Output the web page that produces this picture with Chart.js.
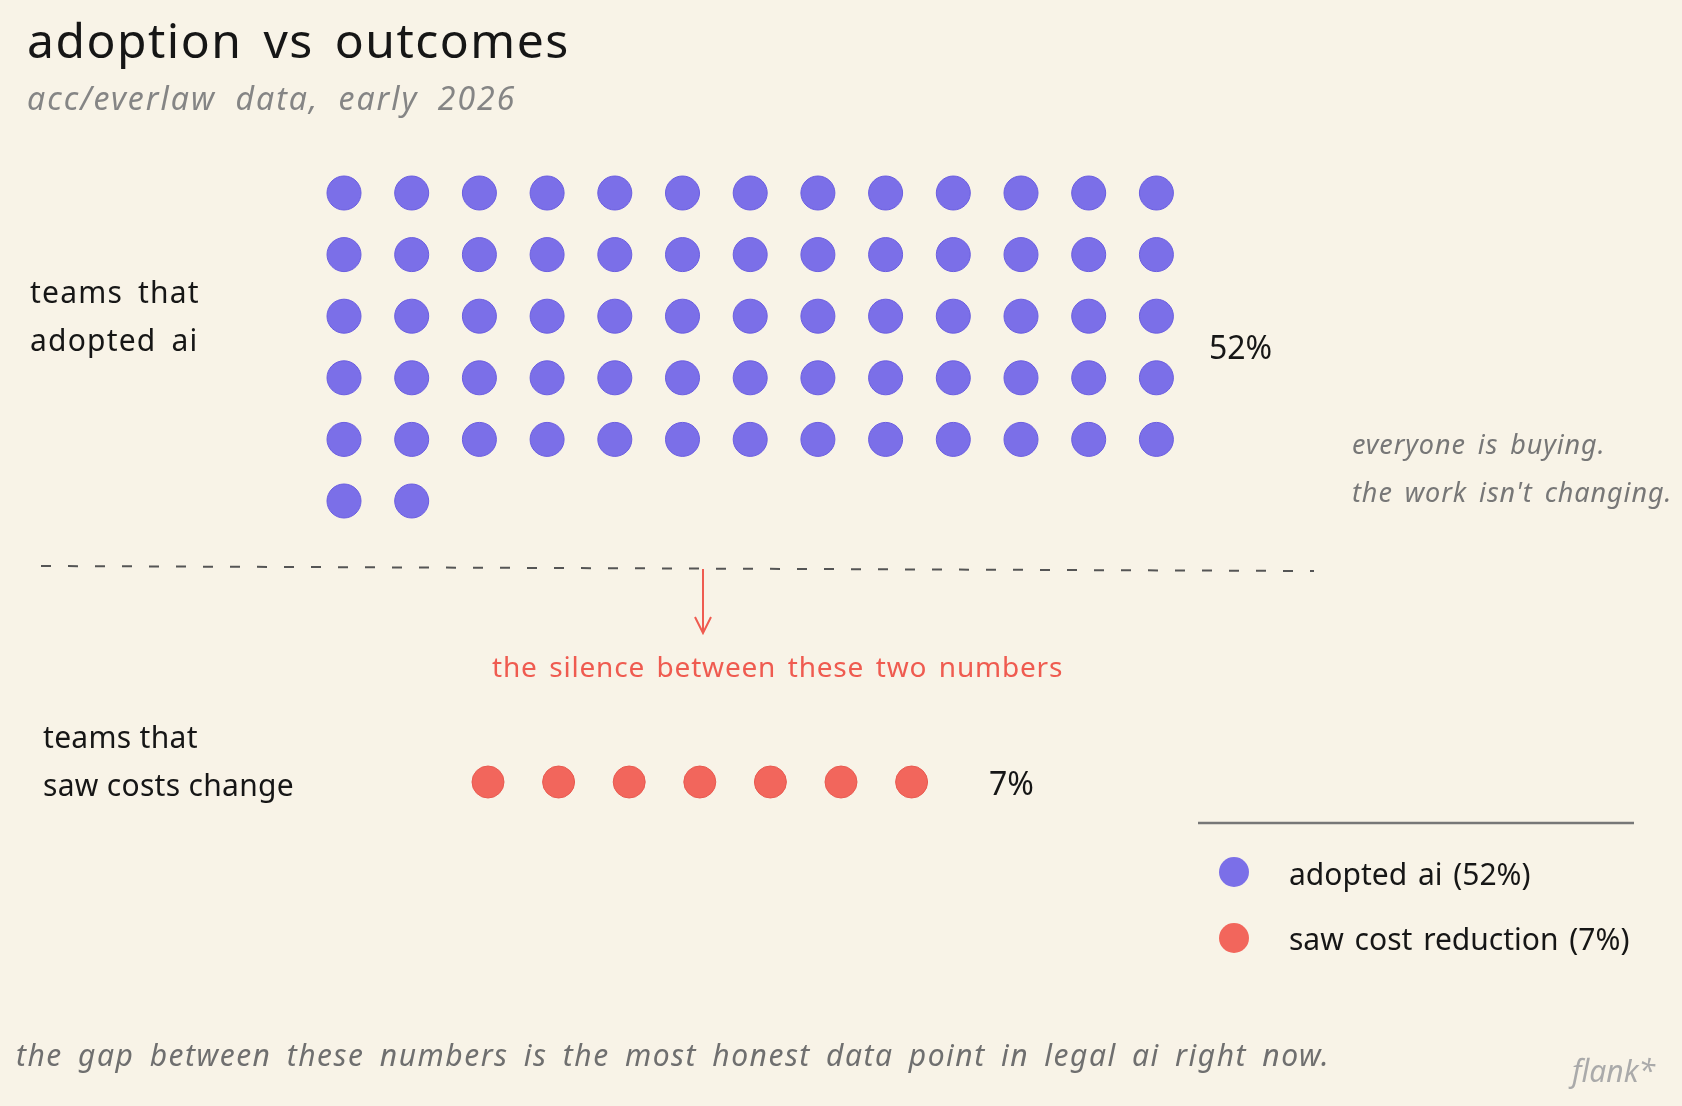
<!DOCTYPE html>
<html>
<head>
<meta charset="utf-8">
<script src="https://cdn.jsdelivr.net/npm/chart.js@4.4.1/dist/chart.umd.min.js"></script>
<style>
  html, body { margin: 0; padding: 0; }
  body { width: 1682px; height: 1106px; background: #f8f3e7; position: relative; overflow: hidden;
         font-family: "Noto Sans", sans-serif; color: #161616; }
  #chart { position: absolute; left: 0; top: 0; }
  .t { position: absolute; white-space: nowrap; line-height: 1; }
  .title { left: 27px; top: 16px; font-size: 48px; letter-spacing: 1.5px; word-spacing: 7px; }
  .sub { left: 27px; top: 82px; font-size: 32px; font-style: italic; color: #858585; letter-spacing: 2px; word-spacing: 9px; }
  .lbl { font-size: 30px; line-height: 48px; }
  .pct { font-size: 32px; }
  .note { left: 1352px; top: 420px; font-size: 27px; line-height: 48px; font-style: italic; color: #777;
          letter-spacing: 0.9px; word-spacing: 4px; }
  .gap { left: 492px; top: 652px; font-size: 28px; color: #ef5b50; letter-spacing: 0.8px; word-spacing: 3.5px; }
  .leg { left: 1289px; font-size: 30px; word-spacing: 3px; }
  .foot { left: 16px; top: 1040px; font-size: 30px; font-style: italic; color: #6f6f6f; letter-spacing: 1.5px; word-spacing: 6px; }
  .flank { left: 1572px; top: 1056px; font-size: 30px; font-style: italic; color: #aaa; }
  .sw { position: absolute; width: 30px; height: 30px; border-radius: 50%; }
</style>
</head>
<body>
<canvas id="chart" width="1682" height="1106"></canvas>

<div class="t title">adoption vs outcomes</div>
<div class="t sub">acc/everlaw data, early 2026</div>

<div class="t lbl" id="lbl0" style="left:30px; top:268px; letter-spacing:1.2px; word-spacing:6px;"></div>
<div class="t pct" id="pct0" style="left:1209px; top:331px;"></div>
<div class="t note">everyone is buying.<br>the work isn't changing.</div>

<div class="t gap">the silence between these two numbers</div>

<div class="t lbl" id="lbl1" style="left:43px; top:713px; letter-spacing:0.3px;"></div>
<div class="t pct" id="pct1" style="left:989px; top:767px;"></div>

<div class="sw" id="sw0" style="left:1219px; top:857px;"></div>
<div class="t leg" id="leg0" style="top:859px;"></div>
<div class="sw" id="sw1" style="left:1219px; top:923px;"></div>
<div class="t leg" id="leg1" style="top:924px;"></div>

<div class="t foot">the gap between these numbers is the most honest data point in legal ai right now.</div>
<div class="t flank">flank*</div>

<script>
// data
const groupLabels = [['teams that', 'adopted ai'], ['teams that', 'saw costs change']];
const legendLabels = ['adopted ai', 'saw cost reduction'];
const percents = [52, 7];
const dotCounts = [67, 7];
const dotColors = ['#7b6fe8', '#f2665c'];
const gridColumns = 13;

// text bits
groupLabels.forEach((lines, i) => {
  document.getElementById('lbl' + i).innerHTML = lines.join('<br>');
  document.getElementById('pct' + i).textContent = percents[i] + '%';
  document.getElementById('leg' + i).textContent = `${legendLabels[i]} (${percents[i]}%)`;
  document.getElementById('sw' + i).style.background = dotColors[i];
});

// dots: purple grid in column/row units, red row in slot units
const gridPoints = [];
for (let i = 0; i < dotCounts[0]; i++) {
  gridPoints.push({ x: i % gridColumns, y: Math.floor(i / gridColumns) });
}
const rowPoints = [];
for (let i = 0; i < dotCounts[1]; i++) {
  rowPoints.push({ x: i, y: 0 });
}

const W = 1682, H = 1106;
// grid: col 0 at 344px, 67.7px apart; row 0 at 193px, 61.6px apart
const gx0 = 344, gdx = 67.7, gy0 = 193, gdy = 61.6;
// red row: slot 0 at 488px, 70.6px apart, at 782px
const rx0 = 488, rdx = 70.6, ry0 = 782;

const overlay = {
  id: 'overlay',
  afterDraw(chart) {
    const c = chart.ctx;
    c.save();
    // dashed separator
    c.strokeStyle = '#555';
    c.lineWidth = 2;
    c.setLineDash([10, 17]);
    c.beginPath();
    c.moveTo(41, 566);
    c.lineTo(1314, 571);
    c.stroke();
    c.setLineDash([]);
    // arrow
    c.strokeStyle = '#ef5b50';
    c.beginPath();
    c.moveTo(703, 569);
    c.lineTo(703, 633);
    c.moveTo(695, 617);
    c.lineTo(703, 633);
    c.lineTo(711, 617);
    c.stroke();
    // legend rule
    c.strokeStyle = '#777';
    c.lineWidth = 2.5;
    c.beginPath();
    c.moveTo(1198, 823);
    c.lineTo(1634, 823);
    c.stroke();
    c.restore();
  }
};

new Chart(document.getElementById('chart').getContext('2d'), {
  type: 'scatter',
  data: {
    datasets: [{
      label: legendLabels[0],
      data: gridPoints,
      xAxisID: 'xg', yAxisID: 'yg',
      backgroundColor: dotColors[0],
      borderColor: '#6a5de0',
      borderWidth: 1,
      pointRadius: 17
    }, {
      label: legendLabels[1],
      data: rowPoints,
      xAxisID: 'xr', yAxisID: 'yr',
      backgroundColor: dotColors[1],
      borderColor: '#e85a50',
      borderWidth: 1,
      pointRadius: 16
    }]
  },
  options: {
    responsive: false,
    animation: false,
    devicePixelRatio: 1,
    layout: { padding: 0, autoPadding: false },
    scales: {
      xg: { type: 'linear', display: false, min: -gx0 / gdx, max: (W - gx0) / gdx },
      yg: { type: 'linear', display: false, reverse: true, min: -gy0 / gdy, max: (H - gy0) / gdy },
      xr: { type: 'linear', display: false, min: -rx0 / rdx, max: (W - rx0) / rdx },
      yr: { type: 'linear', display: false, reverse: true, min: -ry0, max: H - ry0 }
    },
    plugins: {
      legend: { display: false },
      tooltip: { enabled: false }
    }
  },
  plugins: [overlay]
});
</script>
</body>
</html>
